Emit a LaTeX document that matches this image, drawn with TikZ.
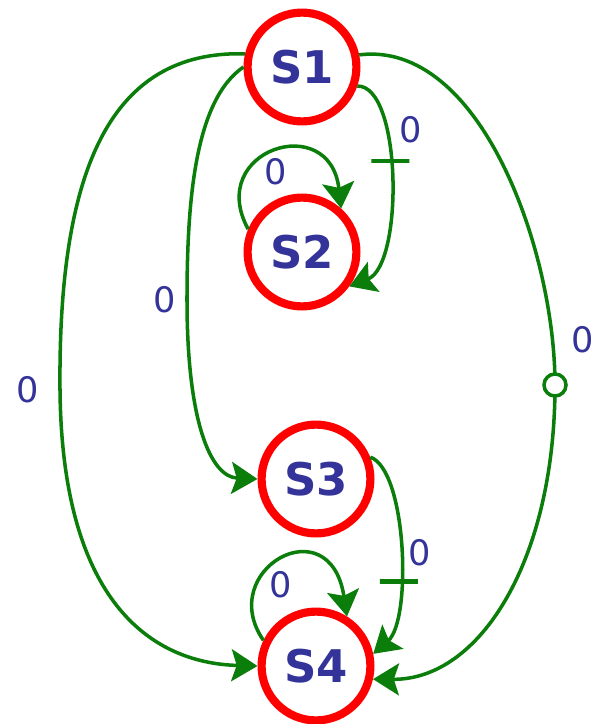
\documentclass[tikz,border=0pt]{standalone}
\usepackage{fontspec}
\setsansfont{DejaVu Sans}
\usetikzlibrary{arrows.meta}
\definecolor{statered}{HTML}{FF0000}
\definecolor{edgegreen}{HTML}{0B7D0B}
\definecolor{labelblue}{HTML}{333399}

\tikzset{
  state/.style={circle, draw=statered, line width=5.8pt, fill=white, minimum size=2.72cm,
    inner sep=0pt, text=labelblue, font=\sffamily\bfseries\fontsize{32}{32}\selectfont},
  trans/.style={draw=edgegreen, line width=2.5pt, -{Stealth[length=6.5mm,width=8mm,inset=1.3mm]}},
  inlabel/.style={text=labelblue, font=\sffamily\fontsize{25}{25}\selectfont},
  bar/.style={draw=edgegreen, line width=3pt, shape=rectangle, minimum width=0.95cm,
    minimum height=0pt, inner sep=0pt},
  bubble/.style={circle, draw=edgegreen, line width=2.5pt, fill=white, minimum size=0.55cm, inner sep=0pt}
}

\begin{document}
\begin{tikzpicture}[x=0.025cm, y=-0.025cm]
  \useasboundingbox (0,0) rectangle (594,724);

  % States
  \node[state] (S1) at (302,67) {S1};
  \node[state] (S2) at (302,252) {S2};
  \node[state] (S3) at (316,479) {S3};
  \node[state] (S4) at (316,666) {S4};

  % Long arcs on the left
  \draw[trans] (S1.167) .. controls (110,50) and (58,170) .. (60,390)
    .. controls (62,600) and (150,663) .. (S4.180);
  \draw[trans] (S1.180) .. controls (195,100) and (187,200) .. (187,300)
    .. controls (187,420) and (210,477) .. (S3.180);

  % S1 to S2, with a bar
  \draw[trans] (S1.-19) .. controls (402,85) and (404,265) .. (S2.-36)
    node[bar, pos=0.44] (bar12) {};

  % Self loops
  \draw[trans] (S2.157) .. controls (205,150) and (330,110) .. (S2.48);
  \draw[trans] (S4.154) .. controls (215,570) and (330,505) .. (S4.58);

  % Long arc on the right, with a ring
  \draw[trans] (S1.12) .. controls (480,40) and (555,250) .. (555,385)
    node[bubble] (ring) {}
    .. controls (555,560) and (480,680) .. (S4.-13);

  % S3 to S4, with a bar
  \draw[trans] (S3.22) .. controls (407,470) and (412,620) .. (S4.12)
    node[bar, pos=0.63] (bar34) {};

  % Input labels
  \node[inlabel] (l14) at (28,390) {0};
  \node[inlabel] (l13) at (165,300) {0};
  \node[inlabel] (l12) at (411,130) {0};
  \node[inlabel] (l22) at (276,172) {0};
  \node[inlabel] (l41) at (583,340) {0};
  \node[inlabel] (l34) at (420,553) {0};
  \node[inlabel] (l44) at (281,585) {0};
\end{tikzpicture}
\end{document}
